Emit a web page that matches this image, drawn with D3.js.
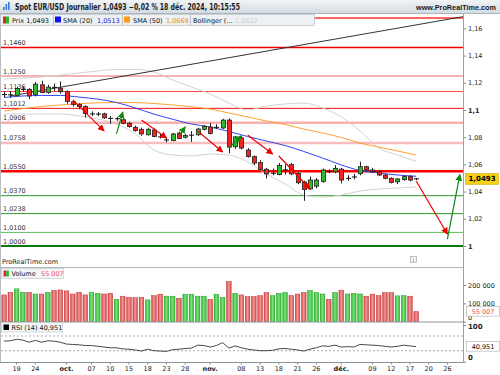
<!DOCTYPE html>
<html><head><meta charset="utf-8">
<script src="https://cdn.jsdelivr.net/npm/d3@7"></script>
<style>body{margin:0;background:#fff}svg{display:block;font-family:"DejaVu Sans",Verdana,sans-serif}</style>
</head><body>
<svg id="c" width="500" height="375"></svg>
<script>
// ---------------- DATA ----------------
const dates = ["2024-09-17","2024-09-18","2024-09-19","2024-09-20","2024-09-23","2024-09-24","2024-09-25","2024-09-26","2024-09-27","2024-09-30",
"2024-10-01","2024-10-02","2024-10-03","2024-10-04","2024-10-07","2024-10-08","2024-10-09","2024-10-10","2024-10-11","2024-10-14",
"2024-10-15","2024-10-16","2024-10-17","2024-10-18","2024-10-21","2024-10-22","2024-10-23","2024-10-24","2024-10-25","2024-10-28",
"2024-10-29","2024-10-30","2024-10-31","2024-11-01","2024-11-04","2024-11-05","2024-11-06","2024-11-07","2024-11-08","2024-11-11",
"2024-11-12","2024-11-13","2024-11-14","2024-11-15","2024-11-18","2024-11-19","2024-11-20","2024-11-21","2024-11-22","2024-11-25",
"2024-11-26","2024-11-27","2024-11-28","2024-11-29","2024-12-02","2024-12-03","2024-12-04","2024-12-05","2024-12-06","2024-12-09",
"2024-12-10","2024-12-11","2024-12-12","2024-12-13","2024-12-16","2024-12-17","2024-12-18"];
const futureDates = ["2024-12-19","2024-12-20","2024-12-23","2024-12-24","2024-12-26","2024-12-27","2024-12-30"];

const open  = [1.1115,1.1113,1.1108,1.1150,1.1152,1.1115,1.1185,1.1130,1.1168,1.1160,
1.1135,1.1060,1.1040,1.1025,1.0970,1.0968,1.0972,1.0940,1.0935,1.0928,
1.0902,1.0873,1.0858,1.0818,1.0853,1.0808,1.0778,1.0775,1.0830,1.0800,
1.0812,1.0818,1.0858,1.0875,1.0870,1.0868,1.0926,1.0730,1.0795,1.0706,
1.0657,1.0613,1.0564,1.0530,1.0525,1.0558,1.0598,1.0534,1.0470,1.0420,
1.0440,1.0475,1.0550,1.0546,1.0565,1.0495,1.0505,1.0532,1.0583,1.0559,
1.0546,1.0522,1.0498,1.0472,1.0488,1.0510,1.0495];
const high  = [1.1135,1.1140,1.1170,1.1170,1.1160,1.1205,1.1215,1.1185,1.1195,1.1210,
1.1145,1.1075,1.1050,1.1035,1.0990,1.0985,1.0980,1.0955,1.0950,1.0940,
1.0912,1.0885,1.0870,1.0870,1.0865,1.0825,1.0800,1.0830,1.0840,1.0825,
1.0845,1.0870,1.0890,1.0905,1.0895,1.0935,1.0937,1.0810,1.0810,1.0720,
1.0665,1.0630,1.0575,1.0570,1.0610,1.0600,1.0610,1.0545,1.0480,1.0510,
1.0500,1.0570,1.0565,1.0595,1.0575,1.0520,1.0530,1.0620,1.0590,1.0575,
1.0555,1.0530,1.0505,1.0500,1.0520,1.0520,1.0500];
const low   = [1.1095,1.1090,1.1100,1.1135,1.1080,1.1100,1.1125,1.1120,1.1140,1.1120,
1.1045,1.1025,1.1005,1.0945,1.0955,1.0955,1.0935,1.0900,1.0920,1.0895,
1.0870,1.0840,1.0810,1.0812,1.0800,1.0790,1.0762,1.0770,1.0790,1.0790,
1.0765,1.0810,1.0850,1.0820,1.0860,1.0860,1.0682,1.0715,1.0710,1.0650,
1.0595,1.0555,1.0497,1.0520,1.0520,1.0525,1.0520,1.0455,1.0332,1.0415,
1.0425,1.0465,1.0535,1.0535,1.0460,1.0480,1.0490,1.0520,1.0550,1.0540,
1.0515,1.0490,1.0460,1.0455,1.0480,1.0475,1.0485];
const close = [1.1112,1.1110,1.1158,1.1153,1.1103,1.1190,1.1128,1.1168,1.1165,1.1135,
1.1063,1.1040,1.1025,1.0975,1.0972,1.0972,1.0942,1.0937,1.0937,1.0902,
1.0878,1.0850,1.0824,1.0858,1.0805,1.0797,1.0781,1.0824,1.0790,1.0812,
1.0818,1.0860,1.0880,1.0828,1.0875,1.0926,1.0727,1.0802,1.0720,1.0657,
1.0610,1.0562,1.0530,1.0540,1.0592,1.0562,1.0530,1.0465,1.0415,1.0485,
1.0485,1.0559,1.0542,1.0571,1.0485,1.0500,1.0510,1.0583,1.0559,1.0546,
1.0522,1.0498,1.0468,1.0493,1.0510,1.0485,1.0493];
const volume = [146000,160000,179000,160000,160000,151000,151000,160000,170000,173000,
168000,151000,160000,146000,160000,155000,151000,155000,122000,139000,
133000,131000,133000,119000,142000,150000,139000,139000,128000,150000,
150000,139000,139000,122000,150000,131000,219000,155000,146000,137000,
137000,142000,159000,142000,155000,159000,142000,151000,159000,170000,
159000,151000,122000,159000,172000,151000,155000,151000,139000,150000,
142000,159000,159000,141000,142000,139000,55007];
const rsi = [56,57,61,59,53,58,53,57,56,53,
48,47,46,44,44,42,40,38,38,35,
34,32,29,34,30,29,28,33,34,36,
37,45,44,40,44,52,37,43,38,34,
32,30,30,31,35,36,34,32,29,34,
38,43,42,45,40,41,40,47,46,45,
44,42,40,42,45,43,40.951];

// indicator readings, sampled every third session
const indDates = ["2024-09-17","2024-09-20","2024-09-25","2024-09-30","2024-10-03","2024-10-08","2024-10-11","2024-10-16","2024-10-21","2024-10-24",
"2024-10-29","2024-11-01","2024-11-06","2024-11-11","2024-11-14","2024-11-19","2024-11-22","2024-11-27","2024-12-02","2024-12-05",
"2024-12-10","2024-12-13","2024-12-18"];
const sma20 = [1.1092,1.1103,1.1107,1.1107,1.1095,1.1080,1.1055,1.1015,1.0970,1.0932,1.0897,1.0875,1.0842,1.0805,1.0772,1.0739,1.0695,1.0647,1.0596,1.0555,1.0537,1.0522,1.0513];
const sma50 = [1.0993,1.1010,1.1026,1.1037,1.1046,1.1053,1.1055,1.1054,1.1048,1.1037,1.1024,1.1007,1.0978,1.0949,1.0919,1.0893,1.0860,1.0831,1.0798,1.0757,1.0728,1.0699,1.0669];
const bbUpper = [1.1228,1.1235,1.1243,1.1257,1.1272,1.1287,1.1298,1.1298,1.1279,1.1221,1.1169,1.1118,1.1051,1.1000,1.1029,1.1044,1.1051,1.1015,1.0949,1.0846,1.0721,1.0669,1.0622];
const bbLower = [1.0971,1.0971,1.0971,1.0971,1.0956,1.0934,1.0897,1.0824,1.0706,1.0669,1.0662,1.0676,1.0669,1.0618,1.0529,1.0456,1.0375,1.0360,1.0375,1.0404,1.0419,1.0426,1.0434];

// horizontal levels
const levels      = [1.1676,1.1460,1.1250,1.1136,1.1012,1.0906,1.0758,1.0550,1.0370,1.0238,1.0100,1.0000];
const levelLabels = ["","1,1460","1,1250","1,1136","1,1012","1,0906","1,0758","1,0550","1,0370","1,0238","1,0100","1,0000"];
const levelColors = ["#f33","#e00","#f39a9a","#f44","#e11","#f7b0b0","#f9bcbc","#f00","#2a9a2a","#2a9a2a","#5cc05c","#0a7a0a"];
const levelWidths = [1.5,1.5,1.5,1,1,2.5,2.5,2.5,1,1,1,2];

// trend line and arrows (date, price)
const trend = [["2024-09-18",1.1103],["2024-12-30",1.1682]];
const arrows = [
 {c:"r",a:["2024-10-02",1.1074],b:["2024-10-09",1.0846]},
 {c:"g",a:["2024-10-11",1.0824],b:["2024-10-14",1.0985]},
 {c:"r",a:["2024-10-17",1.0926],b:["2024-10-23",1.0794]},
 {c:"g",a:["2024-10-25",1.0809],b:["2024-10-28",1.0875]},
 {c:"r",a:["2024-10-30",1.0846],b:["2024-11-05",1.0691]},
 {c:"g",a:["2024-11-06",1.0721],b:["2024-11-08",1.0809]},
 {c:"r",a:["2024-11-11",1.0816],b:["2024-11-15",1.0676]},
 {c:"r",a:["2024-11-18",1.0662],b:["2024-11-25",1.0419]},
 {c:"r",a:["2024-12-18",1.0478],b:["2024-12-26",1.0088]},
 {c:"g",a:["2024-12-26",1.0051],b:["2024-12-30",1.0525]}
];

const priceTicks = [1.16,1.14,1.12,1.1,1.08,1.06,1.04,1.02,1];
const volTicks = [0,100000,200000];
const rsiTicks = [0,100];
const xTickDates  = ["2024-09-19","2024-09-24","2024-10-01","2024-10-07","2024-10-10","2024-10-15","2024-10-18","2024-10-23","2024-10-28","2024-11-01","2024-11-08",
"2024-11-13","2024-11-18","2024-11-21","2024-11-26","2024-12-02","2024-12-09","2024-12-12","2024-12-17","2024-12-20","2024-12-26"];
const xTickLabels = ["19","24","oct.","07","10","15","18","23","28","nov.","08","13","18","21","26","déc.","09","12","17","20","26"];

// ---------------- DRAWING ----------------
const svg = d3.select("#c");
const X0 = 1, X1 = 463;
const allDates = dates.concat(futureDates);
const x = d3.scaleBand().domain(allDates).range([X0, X1]);
const bw = x.bandwidth();
const cx = d => x(d) + bw / 2;
const y  = d3.scaleLinear().domain([1.0, 1.1]).range([246, 110]);
const yv = d3.scaleLinear().domain([0, 200000]).range([321.7, 285]);
const yr = d3.scaleLinear().domain([0, 100]).range([361.7, 325]);
const comma = v => String(v).replace(".", ",");

const defs = svg.append("defs");
defs.append("clipPath").attr("id","mainClip").append("rect").attr("x",X0).attr("y",14).attr("width",X1-X0).attr("height",238);
const hg = defs.append("linearGradient").attr("id","hdr").attr("x1",0).attr("y1",0).attr("x2",0).attr("y2",1);
hg.append("stop").attr("offset","0").attr("stop-color","#f1f4f6");
hg.append("stop").attr("offset","1").attr("stop-color","#d3dbe1");
function barGrad(id, edge, mid){
  const g = defs.append("linearGradient").attr("id",id).attr("x1",0).attr("y1",0).attr("x2",1).attr("y2",0);
  g.append("stop").attr("offset","0").attr("stop-color",edge);
  g.append("stop").attr("offset","0.5").attr("stop-color",mid);
  g.append("stop").attr("offset","1").attr("stop-color",edge);
}
barGrad("vr","#d64545","#f29a9a");
barGrad("vg","#2eb82e","#7ee07e");
[["ar","#e00"],["ag","#118811"]].forEach(([id,col])=>{
  defs.append("marker").attr("id",id).attr("viewBox","0 0 8 8").attr("refX",7).attr("refY",4)
    .attr("markerWidth",7).attr("markerHeight",7).attr("markerUnits","userSpaceOnUse").attr("orient","auto")
    .append("path").attr("d","M0,0L8,4L0,8Z").attr("fill",col);
});

// frame lines
svg.append("line").attr("x1",0.5).attr("x2",0.5).attr("y1",13).attr("y2",362).attr("stroke","#b8c0c6");

const main = svg.append("g").attr("clip-path","url(#mainClip)");

// level lines
levels.forEach((lv,i)=>{
  main.append("line").attr("x1",X0).attr("x2",X1).attr("y1",y(lv)).attr("y2",y(lv))
    .attr("stroke",levelColors[i]).attr("stroke-width",levelWidths[i]);
});

// bollinger + moving averages
const lineGen = arr => d3.line().x((d,i)=>cx(indDates[i])).y(d=>y(d)).curve(d3.curveMonotoneX)(arr);
main.append("path").attr("d",lineGen(bbUpper)).attr("fill","none").attr("stroke","#d2d2d2").attr("stroke-width",1);
main.append("path").attr("d",lineGen(bbLower)).attr("fill","none").attr("stroke","#d2d2d2").attr("stroke-width",1);
main.append("path").attr("d",lineGen(sma50)).attr("fill","none").attr("stroke","#ffa030").attr("stroke-width",1);
main.append("path").attr("d",lineGen(sma20)).attr("fill","none").attr("stroke","#3344ee").attr("stroke-width",1);

// trend line (extended to right edge)
{
  const ax = cx(trend[0][0]), ay = y(trend[0][1]), bx = cx(trend[1][0]), by = y(trend[1][1]);
  const s = (by-ay)/(bx-ax);
  main.append("line").attr("x1",ax).attr("y1",ay).attr("x2",X1).attr("y2",ay+s*(X1-ax)).attr("stroke","#333").attr("stroke-width",1);
}

// level labels
levels.forEach((lv,i)=>{
  if(!levelLabels[i]) return;
  main.append("text").attr("x",3).attr("y",y(lv)-2.5).attr("font-size",6.5).attr("fill","#333").text(levelLabels[i]);
});

// candles
const cw = 4.2;
dates.forEach((d,i)=>{
  const o=open[i],h=high[i],l=low[i],c=close[i];
  const xc = Math.round(cx(d))+0.5;
  main.append("line").attr("x1",xc).attr("x2",xc).attr("y1",y(h)).attr("y2",y(l)).attr("stroke","#222").attr("stroke-width",1);
  const top = y(Math.max(o,c)), bot = y(Math.min(o,c));
  if (bot - top < 1.6) {
    main.append("line").attr("x1",xc-2.5).attr("x2",xc+2.5).attr("y1",(top+bot)/2).attr("y2",(top+bot)/2).attr("stroke","#111").attr("stroke-width",1);
  } else {
    main.append("rect").attr("x",xc-cw/2).attr("y",top).attr("width",cw).attr("height",bot-top)
      .attr("fill", c>=o ? "#2dbb2d" : "#f02424").attr("stroke","#222").attr("stroke-width",0.8);
  }
});

// arrows
arrows.forEach(a=>{
  main.append("line").attr("x1",cx(a.a[0])).attr("y1",y(a.a[1])).attr("x2",cx(a.b[0])).attr("y2",y(a.b[1]))
    .attr("stroke", a.c==="r" ? "#e00" : "#118811").attr("stroke-width",1.2)
    .attr("marker-end", a.c==="r" ? "url(#ar)" : "url(#ag)");
});

// right price axis
const axR = svg.append("g").attr("transform",`translate(${X1},0)`)
  .call(d3.axisRight(y).tickValues(priceTicks).tickSize(3).tickPadding(2).tickFormat(comma));
axR.select(".domain").remove();
axR.selectAll("line").attr("stroke","#888");
axR.selectAll("text").attr("font-size",6.5).attr("fill","#222").attr("font-family","DejaVu Sans")
  .attr("font-weight",d=>(d===1.1||d===1)?"bold":"normal");
svg.append("line").attr("x1",X1+0.5).attr("x2",X1+0.5).attr("y1",13).attr("y2",362).attr("stroke","#9aa3aa");

// last price tag
{
  const last = close[close.length-1];
  const yy = y(last);
  svg.append("rect").attr("x",465.5).attr("y",yy-5.5).attr("width",33).attr("height",11).attr("fill","#f7cf14").attr("stroke","#c9a400").attr("stroke-width",0.5);
  svg.append("text").attr("x",482).attr("y",yy+2.5).attr("text-anchor","middle").attr("font-size",7).attr("font-weight","bold").attr("fill","#000").text(comma(last));
}

// header bar
svg.append("rect").attr("x",0).attr("y",0).attr("width",500).attr("height",13).attr("fill","url(#hdr)");
svg.append("line").attr("x1",0).attr("x2",500).attr("y1",13.5).attr("y2",13.5).attr("stroke","#a9b4bc");
[[3,7],[5.5,4],[8,2]].forEach(([ix,iy])=>{
  svg.append("rect").attr("x",ix).attr("y",iy).attr("width",1.6).attr("height",10-iy).attr("fill","#3a7bd5");
});
svg.append("text").attr("x",15).attr("y",10).attr("font-size",8.5).attr("font-weight","bold").attr("fill","#1a1a1a")
  .attr("textLength",225).attr("lengthAdjust","spacingAndGlyphs")
  .text("Spot EUR/USD Journalier 1,0493 −0,02 % 18 déc. 2024, 10:15:55");
svg.append("text").attr("x",416).attr("y",10).attr("font-size",7.3).attr("font-weight","bold").attr("fill","#1a1a1a")
  .attr("font-family","Liberation Sans, Arial, sans-serif")
  .attr("textLength",80).attr("lengthAdjust","spacingAndGlyphs").text("www.ProRealTime.com");

// legend row
const lg = svg.append("g");
lg.append("rect").attr("x",0.5).attr("y",14.5).attr("width",314).attr("height",11).attr("fill","#eef1f3").attr("stroke","#b9c1c7").attr("stroke-width",0.7);
[53,122,190].forEach(sx=>lg.append("line").attr("x1",sx+0.5).attr("x2",sx+0.5).attr("y1",14.5).attr("y2",25.5).attr("stroke","#b9c1c7"));
lg.append("rect").attr("x",3).attr("y",16.5).attr("width",3).attr("height",7).attr("fill","#e02a2a");
lg.append("rect").attr("x",6).attr("y",16.5).attr("width",3).attr("height",7).attr("fill","#2db82d");
lg.append("text").attr("x",12).attr("y",22.5).attr("font-size",6.5).attr("fill","#111").text("Prix 1,0493");
lg.append("rect").attr("x",55).attr("y",16.5).attr("width",6).attr("height",6).attr("fill","#1212ee");
lg.append("text").attr("x",63).attr("y",22.5).attr("font-size",6.5).attr("fill","#111").text("SMA (20)");
lg.append("text").attr("x",97).attr("y",22.5).attr("font-size",6.5).attr("fill","#1a1ae0").text(comma(sma20[sma20.length-1]));
lg.append("rect").attr("x",124).attr("y",16.5).attr("width",6).attr("height",6).attr("fill","#ff9a1a");
lg.append("text").attr("x",133).attr("y",22.5).attr("font-size",6.5).attr("fill","#111").text("SMA (50)");
lg.append("text").attr("x",166).attr("y",22.5).attr("font-size",6.5).attr("fill","#f08a10").text(comma(sma50[sma50.length-1]));
lg.append("text").attr("x",193).attr("y",22.5).attr("font-size",6.5).attr("fill","#111").text("Bollinger (...");
lg.append("text").attr("x",235).attr("y",22.5).attr("font-size",6.5).attr("fill","#c8cdd1").text(comma(bbUpper[bbUpper.length-1]));

// ---------- volume panel ----------
svg.append("text").attr("x",2).attr("y",264).attr("font-size",6.5).attr("fill","#222").text("ProRealTime.com");
svg.append("rect").attr("x",410.5).attr("y",256.5).attr("width",6).attr("height",6).attr("fill","#f4f4f4").attr("stroke","#999").attr("stroke-width",0.6);
svg.append("text").attr("x",413.5).attr("y",261.5).attr("text-anchor","middle").attr("font-size",5).attr("fill","#666").text("i");
svg.append("line").attr("x1",0).attr("x2",X1).attr("y1",267.5).attr("y2",267.5).attr("stroke","#b0b8be");
const vb = 4.6;
dates.forEach((d,i)=>{
  const up = close[i] >= open[i];
  svg.append("rect").attr("x",cx(d)-vb/2).attr("y",yv(volume[i])).attr("width",vb).attr("height",yv(0)-yv(volume[i]))
    .attr("fill", up ? "url(#vg)" : "url(#vr)").attr("stroke", up ? "#24a024" : "#c03434").attr("stroke-width",0.5);
});
svg.append("rect").attr("x",1.5).attr("y",268.5).attr("width",62).attr("height",10).attr("fill","#f3f5f6").attr("stroke","#b9c1c7").attr("stroke-width",0.6);
svg.append("rect").attr("x",3.5).attr("y",270.5).attr("width",2.7).attr("height",6).attr("fill","#e02a2a");
svg.append("rect").attr("x",6.2).attr("y",270.5).attr("width",2.7).attr("height",6).attr("fill","#2db82d");
svg.append("text").attr("x",11.5).attr("y",276.3).attr("font-size",6.5).attr("fill","#111").text("Volume");
svg.append("text").attr("x",41).attr("y",276.3).attr("font-size",6.5).attr("fill","#e86060").text("55 007");
const axV = svg.append("g").attr("transform",`translate(${X1},0)`)
  .call(d3.axisRight(yv).tickValues(volTicks).tickSize(3).tickPadding(2).tickFormat(v=>d3.format(",")(v).replace(/,/g," ")));
axV.select(".domain").remove();
axV.selectAll("line").attr("stroke","#888");
axV.selectAll("text").attr("font-size",6.5).attr("fill","#222").attr("font-family","DejaVu Sans")
  .attr("transform",d=>d===0?"translate(0,-4.5)":null);
svg.append("rect").attr("x",466.5).attr("y",yv(55007)-5).attr("width",33).attr("height",9.5).attr("fill","#fff").attr("stroke","#aaa").attr("stroke-width",0.6);
svg.append("text").attr("x",483).attr("y",yv(55007)+2.3).attr("text-anchor","middle").attr("font-size",6.5).attr("fill","#e05555").text("55 007");
svg.append("line").attr("x1",0).attr("x2",X1).attr("y1",322).attr("y2",322).attr("stroke","#8a949b");

// ---------- RSI panel ----------
[70,30].forEach(v=>svg.append("line").attr("x1",X0).attr("x2",X1).attr("y1",yr(v)).attr("y2",yr(v))
  .attr("stroke","#999").attr("stroke-dasharray","2,2").attr("stroke-width",0.8));
svg.append("path").attr("d", d3.line().x((d,i)=>cx(dates[i])).y(d=>yr(d))(rsi))
  .attr("fill","none").attr("stroke","#333").attr("stroke-width",0.9);
svg.append("rect").attr("x",1.5).attr("y",322.5).attr("width",61).attr("height",9.5).attr("fill","#f3f5f6").attr("stroke","#b9c1c7").attr("stroke-width",0.6);
svg.append("rect").attr("x",3.5).attr("y",324.5).attr("width",5.5).attr("height",5.5).attr("fill","#000");
svg.append("text").attr("x",11.5).attr("y",330).attr("font-size",6.5).attr("fill","#111").text("RSI (14) 40,951");
const axRs = svg.append("g").attr("transform",`translate(${X1},0)`)
  .call(d3.axisRight(yr).tickValues(rsiTicks).tickSize(3).tickPadding(2));
axRs.select(".domain").remove();
axRs.selectAll("line").attr("stroke","#888");
axRs.selectAll("text").attr("font-size",7).attr("font-weight","bold").attr("fill","#222").attr("font-family","DejaVu Sans")
  .attr("transform",d=>d===0?"translate(0,-4)":"translate(0,1.5)");
{
  const lr = rsi[rsi.length-1];
  svg.append("rect").attr("x",466.5).attr("y",yr(lr)-5).attr("width",33).attr("height",9.5).attr("fill","#fff").attr("stroke","#aaa").attr("stroke-width",0.6);
  svg.append("text").attr("x",483).attr("y",yr(lr)+2.3).attr("text-anchor","middle").attr("font-size",6.5).attr("fill","#111").text(comma(lr));
}

// ---------- x axis ----------
svg.append("line").attr("x1",0).attr("x2",X1).attr("y1",362.5).attr("y2",362.5).attr("stroke","#8a949b");
const axB = svg.append("g").attr("transform","translate(0,362.5)")
  .call(d3.axisBottom(x).tickValues(xTickDates).tickSize(2).tickPadding(1.5).tickFormat((d,i)=>xTickLabels[i]));
axB.select(".domain").remove();
axB.selectAll("line").attr("stroke","#888");
axB.selectAll("text").attr("font-size",6.5).attr("fill","#222").attr("font-family","DejaVu Sans")
  .attr("font-weight",(d,i)=>/\./.test(xTickLabels[i])?"bold":"normal");
</script>
</body></html>
